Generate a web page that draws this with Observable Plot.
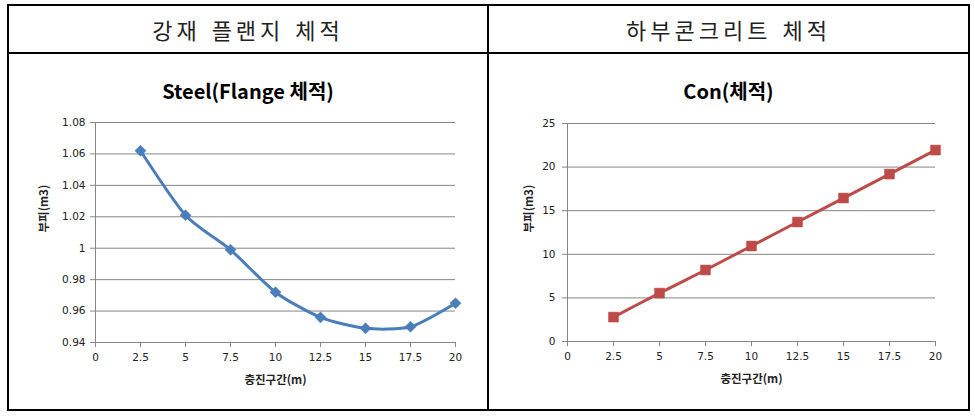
<!DOCTYPE html>
<html>
<head>
<meta charset="utf-8">
<script src="https://cdn.jsdelivr.net/npm/d3@7"></script>
<script src="https://cdn.jsdelivr.net/npm/@observablehq/plot@0.6"></script>
<style>
  body { margin: 0; background: #fff; }
  #page { position: relative; width: 975px; height: 416px; overflow: hidden; background: #fff; }
  .hl, .vl { position: absolute; background: #000; }
  .hdr { position: absolute; top: 5px; height: 48px; line-height: 48px; text-align: center;
         font-family: "Noto Sans CJK KR", sans-serif; font-size: 22px; color: #222;
         letter-spacing: 4px; word-spacing: 2px; }
  .ttl { position: absolute; top: 77px; height: 28px; line-height: 28px; text-align: center;
         font-family: "Noto Sans CJK KR", sans-serif; font-weight: bold; font-size: 20px; color: #000; }
  .chart { position: absolute; top: 53px; }
</style>
</head>
<body>
<div id="page">
  <div class="hl" style="left:7px;top:4px;width:963px;height:2px"></div>
  <div class="hl" style="left:7px;top:52px;width:963px;height:2px"></div>
  <div class="hl" style="left:7px;top:409px;width:963px;height:2px"></div>
  <div class="vl" style="left:7px;top:4px;width:2px;height:407px"></div>
  <div class="vl" style="left:487px;top:4px;width:2px;height:407px"></div>
  <div class="vl" style="left:968px;top:4px;width:2px;height:407px"></div>
  <div class="hdr" id="h1" style="left:9px;width:478px"></div>
  <div class="hdr" id="h2" style="left:489px;width:479px"></div>
  <div class="ttl" id="t1" style="left:9px;width:478px"></div>
  <div class="ttl" id="t2" style="left:489px;width:479px"></div>
  <div class="chart" id="c1" style="left:8px"></div>
  <div class="chart" id="c2" style="left:488px"></div>
</div>
<script>
// ---- data ----
const headers = ["강재 플랜지 체적", "하부콘크리트 체적"];
const titles = ["Steel(Flange 체적)", "Con(체적)"];
const xLabel = "충진구간(m)";
const yLabel = "부피(m3)";
const sections = [2.5, 5, 7.5, 10, 12.5, 15, 17.5, 20];
const steelVolume = [1.062, 1.021, 0.999, 0.972, 0.956, 0.949, 0.950, 0.965];
const conVolume = [2.8, 5.55, 8.2, 10.95, 13.7, 16.45, 19.2, 21.95];
const xTicks = [0, 2.5, 5, 7.5, 10, 12.5, 15, 17.5, 20];
const steelTicks = [0.94, 0.96, 0.98, 1, 1.02, 1.04, 1.06, 1.08];
const conTicks = [0, 5, 10, 15, 20, 25];

document.getElementById("h1").textContent = headers[0];
document.getElementById("h2").textContent = headers[1];
document.getElementById("t1").textContent = titles[0];
document.getElementById("t2").textContent = titles[1];

function makeChart({values, yTicks, yDomain, color, symbol, r, width, margins, yLabelOffset, yTickPadding}) {
  const data = sections.map((x, i) => ({x, y: values[i]}));
  return Plot.plot({
    width, height: 357,
    marginLeft: margins[0], marginRight: margins[1], marginTop: margins[2], marginBottom: margins[3],
    style: {fontFamily: "DejaVu Sans, sans-serif", fontSize: "10.5px", color: "#222", background: "transparent", overflow: "visible"},
    x: {domain: [0, 20]},
    y: {domain: yDomain},
    marks: [
      Plot.gridY(yTicks, {stroke: "#868686", strokeOpacity: 1, strokeWidth: 1}),
      Plot.ruleX([0], {stroke: "#868686"}),
      Plot.ruleY([yDomain[0]], {stroke: "#868686"}),
      Plot.axisX(xTicks, {tickSize: 5, tickPadding: 6, stroke: "#868686", fill: "#222", tickFormat: d => String(d), label: null}),
      Plot.axisY(yTicks, {tickSize: 5, tickPadding: yTickPadding, stroke: "#868686", fill: "#222", tickFormat: d => String(d), label: null}),
      Plot.line(data, {x: "x", y: "y", stroke: color, strokeWidth: 3, curve: "cardinal", tension: 0.3}),
      Plot.dot(data, {x: "x", y: "y", symbol, r, fill: color, stroke: color, strokeWidth: 0.5}),
      Plot.text([xLabel], {frameAnchor: "bottom", dy: 41, fontFamily: "Noto Sans CJK KR, sans-serif", fontWeight: "bold", fontSize: 11.5, fill: "#222"}),
      Plot.text([yLabel], {frameAnchor: "left", dx: -yLabelOffset, rotate: -90, fontFamily: "Noto Sans CJK KR, sans-serif", fontWeight: "bold", fontSize: 11.5, fill: "#222"})
    ]
  });
}

document.getElementById("c1").appendChild(makeChart({
  values: steelVolume, yTicks: steelTicks, yDomain: [0.94, 1.08],
  color: "#4a7ebb", symbol: "diamond2", r: 5, width: 480,
  margins: [87, 33, 69, 68], yLabelOffset: 51, yTickPadding: 5
}));
document.getElementById("c2").appendChild(makeChart({
  values: conVolume, yTicks: conTicks, yDomain: [0, 25],
  color: "#be4b48", symbol: "square", r: 5.6, width: 481,
  margins: [79, 34, 70, 69], yLabelOffset: 38, yTickPadding: 7
}));
</script>
</body>
</html>
